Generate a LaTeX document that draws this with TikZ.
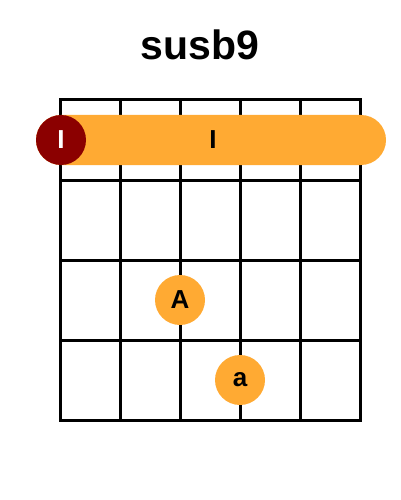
\documentclass[tikz,border=0pt]{standalone}
\usepackage{fontspec}
\setmainfont{Liberation Sans}
\usepackage{xcolor}
\usepackage{tikz}
\definecolor{barreorange}{RGB}{255,170,51}
\definecolor{rootred}{RGB}{139,0,0}
\tikzset{
  fret/.style={line width=3pt,color=black,line cap=rect},
  finger/.style={circle,fill=barreorange,minimum size=50pt,inner sep=0pt,font=\bfseries\fontsize{26}{26}\selectfont},
  rootdot/.style={circle,fill=rootred,text=white,minimum size=50pt,inner sep=0pt,font=\bfseries\fontsize{26}{26}\selectfont}
}
\begin{document}
\begin{tikzpicture}[line cap=round,line join=round,x=1pt,y=-1pt]
\useasboundingbox (0,0) rectangle (400,500);
\node[font=\bfseries\fontsize{41}{41}\selectfont] (title) at (200,45) {susb9};
% grid
\foreach \x in {60,120,180,240,300,360}
  \draw[fret] (\x,100) -- (\x,420);
\foreach \y in {100,180,260,340,420}
  \draw[fret] (60,\y) -- (360,\y);
% barre
\fill[barreorange,rounded corners=25pt] (36,115) rectangle (386,165);
\node[font=\bfseries\fontsize{26}{26}\selectfont] (barre) at (213,140) {I};
\node[rootdot] (root) at (61,140) {I};
% fingers
\node[finger] (fA) at (180,300) {A};
\node[finger] (fa) at (240,380) {a};
\end{tikzpicture}
\end{document}
